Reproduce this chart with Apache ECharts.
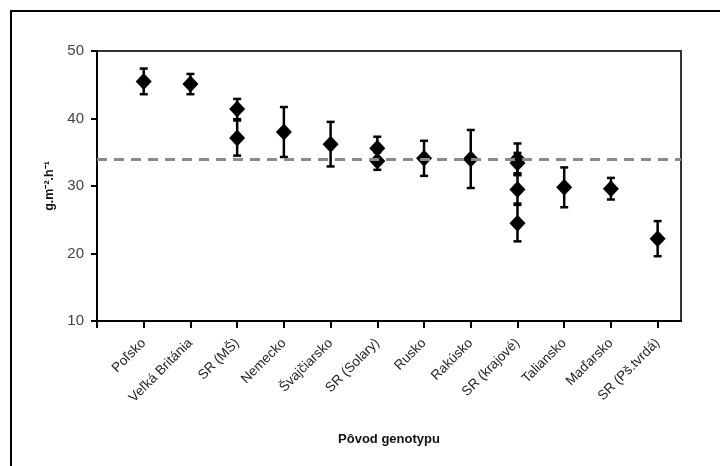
<!DOCTYPE html>
<html>
<head>
<meta charset="utf-8">
<script src="https://cdn.jsdelivr.net/npm/echarts@6/dist/echarts.min.js"></script>
<style>html,body{margin:0;padding:0;background:#fff}#c{width:720px;height:466px}</style>
</head>
<body>
<div id="c"></div>
<script>
// Categories (x axis labels)
var categories = ['Poľsko','Veľká Británia','SR (MŠ)','Nemecko','Švajčiarsko','SR (Solary)','Rusko','Rakúsko','SR (krajové)','Taliansko','Maďarsko','SR (Pš.tvrdá)'];
// Mean values per category (some categories have several genotypes)
var means = [[45.5],[45.1],[41.4,37.1],[38.0],[36.2],[35.6,33.7],[34.1],[34.0],[34.0,33.4,29.5,24.5],[29.8],[29.6],[22.2]];
// Error (+/-) per value
var errors = [[1.9],[1.5],[1.5,2.6],[3.7],[3.3],[1.7,1.3],[2.6],[4.3],[2.3,1.5,2.1,2.7],[2.95],[1.6],[2.6]];
var yTicks = [10,20,30,40,50];
var refLine = 34;

var pts = [];
categories.forEach(function(c,i){
  means[i].forEach(function(m,j){ pts.push([i+1, m, errors[i][j]]); });
});
var tickVals = [0]; categories.forEach(function(c,i){ tickVals.push(i+1); });
var labelVals = categories.map(function(c,i){ return i+1; });

var chart = echarts.init(document.getElementById('c'), null, {renderer:'canvas'});
chart.setOption({
  backgroundColor:'#fff',
  animation:false,
  graphic:[{type:'rect', shape:{x:11,y:11,width:730,height:480}, style:{fill:'none', stroke:'#000', lineWidth:2}, z:-1}],
  grid:{left:97, top:51, right:39, bottom:145, show:true, borderColor:'#333', borderWidth:2},
  xAxis:{
    type:'value', min:0, max:12.5,
    name:'Pôvod genotypu', nameLocation:'middle', nameGap:112,
    nameTextStyle:{fontFamily:'Liberation Sans', fontWeight:'bold', fontSize:13, color:'#111'},
    axisLine:{show:true, lineStyle:{color:'#000', width:2}},
    axisTick:{show:true, customValues:tickVals, length:7, lineStyle:{color:'#000', width:2}},
    axisLabel:{customValues:labelVals, rotate:45, fontFamily:'Liberation Sans', fontSize:13.5, color:'#222', margin:20,
      formatter:function(v){ return categories[Math.round(v)-1] || ''; }},
    splitLine:{show:false}
  },
  yAxis:{
    type:'value', min:10, max:50, interval:10,
    name:'g.m\u207B\u00B2.h\u207B\u00B9', nameLocation:'middle', nameGap:40, nameRotate:90,
    nameTextStyle:{fontFamily:'Liberation Sans', fontWeight:'bold', fontSize:12.5, color:'#111'},
    axisLine:{show:true, lineStyle:{color:'#000', width:2}},
    axisTick:{show:true, length:6, lineStyle:{color:'#000', width:2}},
    axisLabel:{fontFamily:'Liberation Sans', fontSize:15, color:'#444', margin:13,
      formatter:function(v){ return yTicks.indexOf(v)>=0 ? String(v) : ''; }},
    splitLine:{show:false}
  },
  series:[
    {
      type:'custom', z:3,
      data:pts,
      renderItem:function(params, api){
        var x = api.value(0), m = api.value(1), e = api.value(2);
        var top = api.coord([x, m+e]), bot = api.coord([x, m-e]);
        var cw = 4;
        var st = {stroke:'#000', lineWidth:2.5};
        return {type:'group', children:[
          {type:'line', shape:{x1:top[0], y1:top[1], x2:bot[0], y2:bot[1]}, style:st},
          {type:'line', shape:{x1:top[0]-cw, y1:top[1], x2:top[0]+cw, y2:top[1]}, style:st},
          {type:'line', shape:{x1:bot[0]-cw, y1:bot[1], x2:bot[0]+cw, y2:bot[1]}, style:st}
        ]};
      }
    },
    {
      type:'scatter', z:4,
      symbol:'diamond', symbolSize:[16,17],
      itemStyle:{color:'#000', opacity:1},
      data:pts.map(function(p){ return [p[0], p[1]]; })
    },
    {
      type:'line', z:6, data:[],
      markLine:{silent:true, symbol:'none', label:{show:false},
        lineStyle:{color:'#8a8a8a', width:3, type:[10,7]},
        data:[{yAxis:refLine}]}
    }
  ]
});
</script>
</body>
</html>
